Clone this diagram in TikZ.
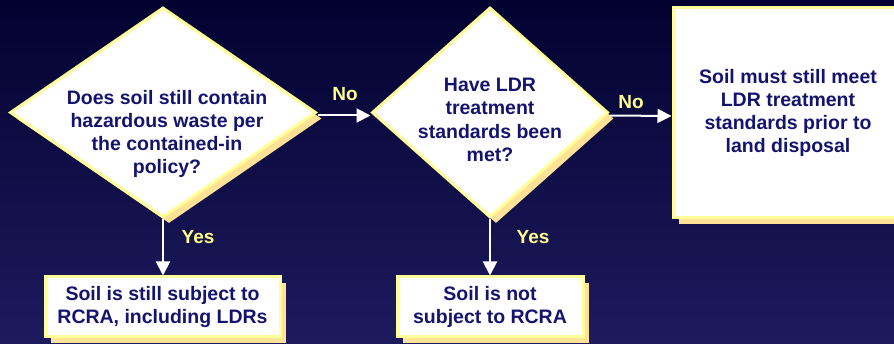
\documentclass[tikz,border=0pt]{standalone}
\usepackage{fontspec}
\setmainfont{Liberation Sans}
\usetikzlibrary{shapes.geometric,arrows.meta,shadows}
\definecolor{bgtop}{RGB}{2,2,48}
\definecolor{bgbot}{RGB}{30,26,94}
\definecolor{txt}{RGB}{20,20,110}
\definecolor{lab}{RGB}{255,255,140}
\definecolor{edge}{RGB}{255,255,153}
\definecolor{shd}{RGB}{255,226,150}
\tikzset{
  mainfont/.style={font=\bfseries\fontsize{19.5}{23.3}\selectfont},
  dia/.style={diamond, draw=edge, line width=3pt, fill=white, inner sep=0pt,
    general shadow={fill=shd, draw=none, shadow xshift=6pt, shadow yshift=-6pt}},
  boxnode/.style={rectangle, draw=edge, line width=3pt, fill=white, align=center,
    text=txt, mainfont, inner sep=0pt,
    general shadow={fill=shd, draw=none, shadow xshift=6pt, shadow yshift=-6pt}},
  qtext/.style={align=center, text=txt, mainfont, inner sep=0pt},
  lbl/.style={text=lab, font=\bfseries\fontsize{19}{23}\selectfont, inner sep=0pt},
  arr/.style={draw=white, line width=2pt, -{Triangle[length=14pt,width=14pt]}}
}
\begin{document}
\begin{tikzpicture}[x=1pt,y=-1pt]
\useasboundingbox (0,0) rectangle (894,344);
\clip (0,0) rectangle (894,344);
\shade[top color=bgtop, bottom color=bgbot] (0,0) rectangle (894,344);

\node[dia, minimum width=306pt, minimum height=210pt] (d1) at (163,112.5) {};
\node[qtext] (d1t) at (167,134) {Does soil still contain\\hazardous waste per\\the contained-in\\policy?};

\node[dia, minimum width=236pt, minimum height=210pt] (d2) at (490,112.5) {};
\node[qtext] (d2t) at (490,120) {Have LDR\\treatment\\standards been\\met?};

\node[boxnode, minimum width=230pt, minimum height=210pt] (b3) at (788,113)
  {Soil must still meet\\LDR treatment\\ standards prior to\\land disposal};

\node[boxnode, minimum width=235pt, minimum height=60pt] (b1) at (162.5,307)
  {Soil is still subject to\\RCRA, including LDRs};
\node[boxnode, minimum width=186pt, minimum height=60pt] (b2) at (490,307)
  {Soil is not\\subject to RCRA};

\draw[arr] ([yshift=-3pt]d1.east) -- ([yshift=-3pt]d2.west);
\draw[arr] ([yshift=-3pt]d2.east) -- ([yshift=-3pt]b3.west);
\draw[arr] (d1.south) -- (d1.south |- b1.north);
\draw[arr] (d2.south) -- (b2.north);

\node[lbl] (no1) at (345,94) {No};
\node[lbl] (no2) at (631,102) {No};
\node[lbl] (yes1) at (198,237) {Yes};
\node[lbl] (yes2) at (533,237) {Yes};
\end{tikzpicture}
\end{document}
